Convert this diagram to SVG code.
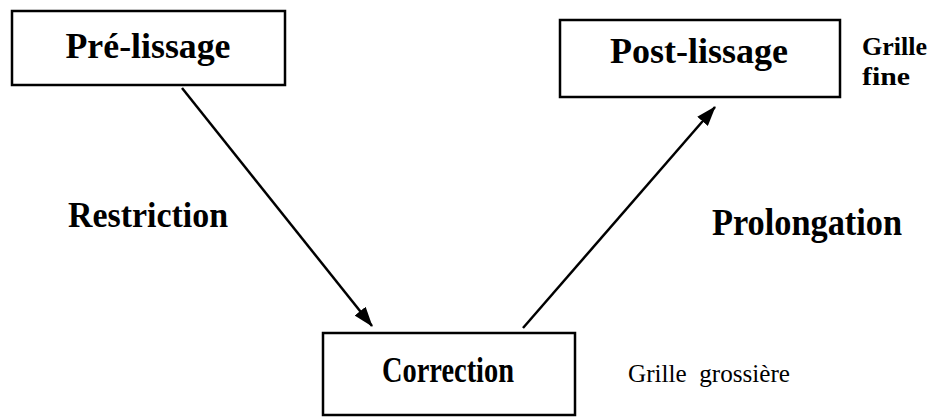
<svg xmlns="http://www.w3.org/2000/svg" width="941" height="419" viewBox="0 0 941 419">
<style>
.box{fill:none;stroke:#000;stroke-width:2.5}
text{font-family:'Liberation Serif', 'Times New Roman', Times, serif;fill:#000}
.lbl{font-weight:bold}
.edge{stroke:#000;stroke-width:2.5;fill:none}
</style>
<defs>
<marker id="ah" markerUnits="userSpaceOnUse" markerWidth="20" markerHeight="14" refX="19" refY="7" orient="auto">
<path d="M0,0 L20,7 L0,14 z" fill="#000"/>
</marker>
</defs>
<rect width="941" height="419" fill="#fff"/>
<g id="pre-lissage">
<rect class="box" x="12" y="11" width="273" height="74"/>
<text class="lbl" x="148" y="58" font-size="36" text-anchor="middle" textLength="165" lengthAdjust="spacingAndGlyphs">Pré-lissage</text>
</g>
<g id="post-lissage">
<rect class="box" x="560" y="20" width="280" height="77"/>
<text class="lbl" x="699" y="63" font-size="36" text-anchor="middle" textLength="178" lengthAdjust="spacingAndGlyphs">Post-lissage</text>
</g>
<g id="correction">
<rect class="box" x="323" y="333" width="252" height="82"/>
<text class="lbl" x="448" y="382" font-size="36" text-anchor="middle" textLength="132" lengthAdjust="spacingAndGlyphs">Correction</text>
</g>
<g id="labels">
<text class="lbl" x="68" y="227" font-size="36" textLength="160" lengthAdjust="spacingAndGlyphs">Restriction</text>
<text class="lbl" x="712" y="235" font-size="38" textLength="190" lengthAdjust="spacingAndGlyphs">Prolongation</text>
<text class="lbl" x="862" y="55" font-size="25" textLength="65" lengthAdjust="spacingAndGlyphs">Grille</text>
<text class="lbl" x="862" y="85" font-size="25" textLength="48" lengthAdjust="spacingAndGlyphs">fine</text>
<text x="628" y="382" font-size="25" textLength="162" lengthAdjust="spacingAndGlyphs" xml:space="preserve">Grille  grossière</text>
</g>
<g id="connectors">
<line class="edge" x1="182" y1="88" x2="372" y2="326" marker-end="url(#ah)"/>
<line class="edge" x1="523" y1="328" x2="715" y2="107" marker-end="url(#ah)"/>
</g>
</svg>
